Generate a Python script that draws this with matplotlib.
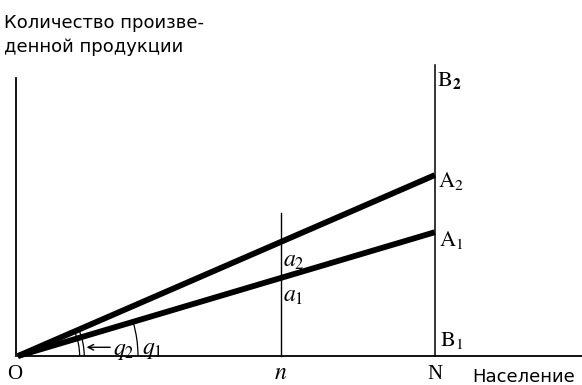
import numpy as np
import matplotlib
matplotlib.use('Agg')
import matplotlib.pyplot as plt
from matplotlib.patches import Arc

plt.rcParams['mathtext.fontset'] = 'stix'
plt.rcParams['font.family'] = ['DejaVu Sans']

# Diagram values (population on x, output on y)
x_labels = ['O', 'n', 'N']
x_values = [0.0, 0.63, 1.0]
output_A1 = 0.297      # output at N along line OA1
output_A2 = 0.434      # output at N along line OA2
y_axis_top = 0.667
n_line_top = 0.343
N_line_top = 0.698
x_axis_end = 1.36

slope_1 = output_A1 / x_values[2]
slope_2 = output_A2 / x_values[2]
angle_1 = np.degrees(np.arctan(slope_1))
angle_2 = np.degrees(np.arctan(slope_2))

fig = plt.figure(figsize=(5.82, 3.85), dpi=100)
ax = fig.add_axes([0, 0, 1, 1])
ax.set_xlim(-0.043, 1.353)
ax.set_ylim(-0.0695, 0.854)
ax.axis('off')

# axes
ax.plot([0, x_axis_end], [0, 0], color='black', lw=1.3)
ax.plot([-0.005, -0.005], [0, y_axis_top], color='black', lw=1.3)

# verticals at n and N
ax.plot([x_values[1], x_values[1]], [0, n_line_top], color='black', lw=1.0)
ax.plot([x_values[2], x_values[2]], [0, N_line_top], color='black', lw=1.1)

# production lines
xs = np.array([0, x_values[2]])
ax.plot(xs, slope_2 * xs, color='black', lw=4.2, solid_capstyle='butt')
ax.plot(xs, slope_1 * xs, color='black', lw=4.2, solid_capstyle='butt')

# angle arcs
ax.add_patch(Arc((0, 0), 2 * 0.288, 2 * 0.288, theta1=0, theta2=angle_1, color='black', lw=0.9))
ax.add_patch(Arc((0, 0), 2 * 0.148, 2 * 0.148, theta1=0, theta2=angle_2, color='black', lw=0.9))
ax.add_patch(Arc((0, 0), 2 * 0.159, 2 * 0.159, theta1=0, theta2=angle_2, color='black', lw=0.9))

# point labels along the bottom edge
ax.text(x_values[0] - 0.008, -0.066, x_labels[0], fontsize=15, ha='center', va='bottom', family='Liberation Serif')
ax.text(x_values[1], -0.066, r'$n$', fontsize=17, ha='center', va='bottom')
ax.text(x_values[2], -0.066, x_labels[2], fontsize=15, ha='center', va='bottom', family='Liberation Serif')
ax.text(1.09, -0.063, 'Население', fontsize=13, ha='left', va='baseline')

ax.text(x_values[2] + 0.006, 0.685, r'$\mathrm{B}_\mathbf{2}$', fontsize=16, ha='left', va='top')
ax.text(x_values[2] + 0.008, output_A2 + 0.012, r'$\mathrm{A}_2$', fontsize=16, ha='left', va='top')
ax.text(x_values[2] + 0.010, output_A1 + 0.008, r'$\mathrm{A}_1$', fontsize=16, ha='left', va='top')
ax.text(x_values[2] + 0.012, 0.062, r'$\mathrm{B}_1$', fontsize=16, ha='left', va='top')
ax.text(x_values[1] + 0.006, slope_2 * x_values[1] - 0.014, r'$a_2$', fontsize=17, ha='left', va='top')
ax.text(x_values[1] + 0.006, slope_1 * x_values[1] - 0.012, r'$a_1$', fontsize=17, ha='left', va='top')

# angle labels
ax.annotate('', xy=(0.158, 0.021), xytext=(0.228, 0.021),
            arrowprops=dict(arrowstyle='->', color='black', lw=1.0))
ax.text(0.228, 0.002, r'$q_2$', fontsize=17, ha='left', va='baseline')
ax.text(0.298, 0.005, r'$q_1$', fontsize=17, ha='left', va='baseline')

# y axis label
ax.text(-0.034, 0.787, 'Количество произве-', fontsize=13, ha='left', va='baseline')
ax.text(-0.034, 0.729, 'денной продукции', fontsize=13, ha='left', va='baseline')

fig.savefig('out.png', dpi=100)
